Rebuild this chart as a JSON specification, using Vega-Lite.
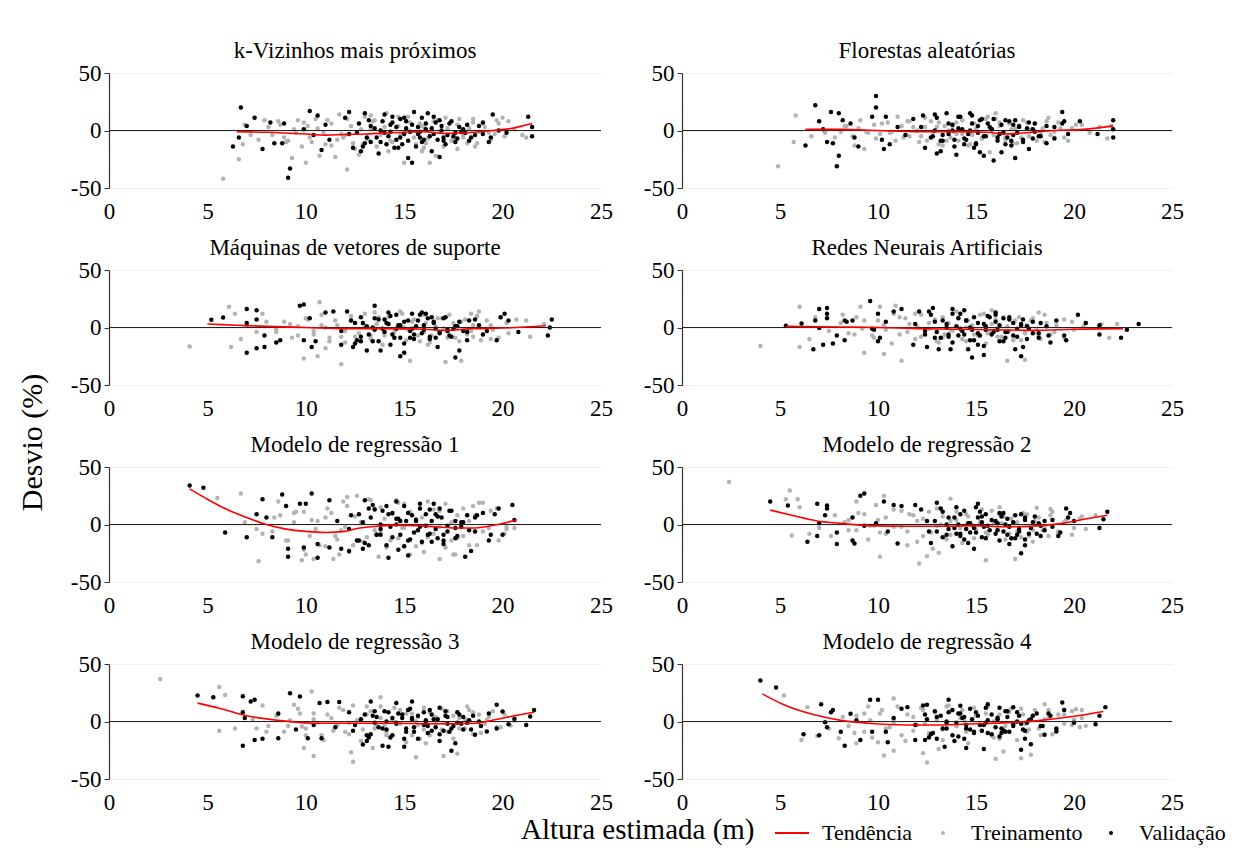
{
"$schema":"https://vega.github.io/schema/vega-lite/v6.json",
"background":"white",
"padding":{"left":18,"top":40,"right":5,"bottom":5},
"title":{"text":"Desvio (%)","orient":"left","anchor":"middle","fontSize":30,"font":"Liberation Serif, DejaVu Serif, serif","fontWeight":"normal","color":"black","offset":22},
"columns":2,
"spacing":{"row":14,"column":30},
"datasets":{
"g1":[{"x":5.8,"y":-42},{"x":6.6,"y":-25},{"x":6.8,"y":-12},{"x":6.9,"y":5},{"x":7.2,"y":-4},{"x":7.6,"y":-8},{"x":8.1,"y":3},{"x":8.6,"y":8},{"x":9.3,"y":-24},{"x":9.5,"y":-2},{"x":9.6,"y":9},{"x":10,"y":-28},{"x":10.3,"y":-10},{"x":10.7,"y":-22},{"x":11.1,"y":9},{"x":11.5,"y":-23},{"x":11.9,"y":-6},{"x":12.1,"y":-34},{"x":12.3,"y":4},{"x":12.7,"y":-21},{"x":13.2,"y":-8},{"x":13.4,"y":8},{"x":13.6,"y":-14},{"x":13.9,"y":-2},{"x":14.1,"y":15},{"x":14.4,"y":-10},{"x":14.7,"y":4},{"x":15,"y":-28},{"x":15.2,"y":12},{"x":15.5,"y":-6},{"x":15.8,"y":6},{"x":16.1,"y":-11},{"x":16.3,"y":-28},{"x":16.7,"y":9},{"x":17,"y":-14},{"x":17.2,"y":2},{"x":17.5,"y":-7},{"x":17.8,"y":10},{"x":18,"y":-4},{"x":18.2,"y":-11},{"x":18.5,"y":7},{"x":18.8,"y":-1},{"x":19.1,"y":3},{"x":19.4,"y":-8},{"x":19.8,"y":6},{"x":20.3,"y":8},{"x":20.6,"y":1},{"x":21,"y":-4},{"x":21.2,"y":-6},{"x":8.9,"y":-6},{"x":10.1,"y":4},{"x":10.9,"y":-2},{"x":11.7,"y":14},{"x":12.9,"y":-12},{"x":13,"y":12},{"x":14.2,"y":-18},{"x":15.9,"y":-18},{"x":16.6,"y":-22},{"x":17.7,"y":-16},{"x":14.8,"y":-4},{"x":13.3,"y":1},{"x":16,"y":3},{"x":12,"y":-4},{"x":9.8,"y":-14},{"x":7.9,"y":9},{"x":18.6,"y":-14},{"x":9,"y":-10},{"x":10.5,"y":10},{"x":11.3,"y":-13},{"x":12.5,"y":-16},{"x":19.6,"y":-3},{"x":20,"y":11},{"x":8.3,"y":-4},{"x":8.7,"y":5},{"x":9.1,"y":-9},{"x":9.4,"y":1},{"x":9.9,"y":7},{"x":10.2,"y":-6},{"x":10.6,"y":2},{"x":11,"y":-12},{"x":11.3,"y":6},{"x":11.8,"y":-3},{"x":12.1,"y":10},{"x":12.4,"y":-11},{"x":12.8,"y":1},{"x":13.1,"y":-7},{"x":13.5,"y":9},{"x":13.8,"y":-4},{"x":14,"y":3},{"x":14.3,"y":-9},{"x":14.7,"y":12},{"x":15,"y":-2},{"x":15.3,"y":7},{"x":15.6,"y":-12},{"x":15.9,"y":4},{"x":16.2,"y":-7},{"x":16.5,"y":8},{"x":16.8,"y":-1},{"x":17.1,"y":11},{"x":17.4,"y":-9},{"x":17.7,"y":5},{"x":18,"y":-6},{"x":18.3,"y":2},{"x":18.7,"y":-11},{"x":19,"y":6},{"x":19.3,"y":-2},{"x":19.7,"y":9},{"x":20.1,"y":-5},{"x":11.6,"y":-8},{"x":13.3,"y":13},{"x":16,"y":-15},{"x":18.5,"y":10}],
"b1":[{"x":6.7,"y":20},{"x":6.3,"y":-14},{"x":6.6,"y":-6},{"x":7,"y":4},{"x":7.4,"y":11},{"x":7.8,"y":-16},{"x":8.2,"y":7},{"x":8.4,"y":-11},{"x":8.8,"y":-11},{"x":8.9,"y":6},{"x":9.2,"y":-33},{"x":9.1,"y":-41},{"x":9.9,"y":1},{"x":10.2,"y":17},{"x":10.4,"y":-4},{"x":10.6,"y":13},{"x":10.8,"y":-17},{"x":11,"y":5},{"x":11.2,"y":-8},{"x":12,"y":11},{"x":12.2,"y":16},{"x":12.4,"y":-15},{"x":12.8,"y":-18},{"x":13,"y":15},{"x":13.3,"y":-10},{"x":13.7,"y":-20},{"x":14,"y":14},{"x":14.2,"y":-5},{"x":14.5,"y":-15},{"x":14.8,"y":10},{"x":15,"y":-3},{"x":15.2,"y":-24},{"x":15.4,"y":-28},{"x":15.5,"y":16},{"x":15.7,"y":3},{"x":16,"y":-8},{"x":16.2,"y":15},{"x":16.4,"y":-18},{"x":16.6,"y":7},{"x":16.8,"y":-23},{"x":17,"y":-6},{"x":17.3,"y":6},{"x":17.6,"y":-10},{"x":17.8,"y":3},{"x":18.1,"y":-2},{"x":18.4,"y":-6},{"x":18.8,"y":4},{"x":19,"y":-3},{"x":19.3,"y":-10},{"x":19.5,"y":14},{"x":19.8,"y":0},{"x":20.2,"y":-2},{"x":21.3,"y":12},{"x":21.5,"y":-5},{"x":21.5,"y":3},{"x":13.5,"y":2},{"x":14,"y":-2},{"x":14.3,"y":5},{"x":14.6,"y":-8},{"x":15.1,"y":8},{"x":15.3,"y":-1},{"x":15.8,"y":-6},{"x":16.1,"y":1},{"x":16.5,"y":-3},{"x":17.1,"y":-12},{"x":13.1,"y":-6},{"x":12.6,"y":-2},{"x":13.8,"y":-10},{"x":14.9,"y":-12},{"x":15.9,"y":11},{"x":16.9,"y":0},{"x":17.5,"y":-5},{"x":18.3,"y":-9},{"x":14.4,"y":12},{"x":15.6,"y":-14},{"x":12.2,"y":-3},{"x":12.7,"y":6},{"x":13,"y":-11},{"x":13.3,"y":4},{"x":13.6,"y":-6},{"x":13.9,"y":8},{"x":14.1,"y":-12},{"x":14.3,"y":-1},{"x":14.6,"y":3},{"x":14.8,"y":-6},{"x":15,"y":11},{"x":15.2,"y":-9},{"x":15.4,"y":5},{"x":15.7,"y":-3},{"x":15.9,"y":-10},{"x":16.1,"y":6},{"x":16.3,"y":-5},{"x":16.5,"y":12},{"x":16.7,"y":-8},{"x":16.9,"y":4},{"x":17.2,"y":-4},{"x":17.4,"y":8},{"x":17.7,"y":-7},{"x":17.9,"y":-1},{"x":18.2,"y":5},{"x":18.6,"y":-4},{"x":19,"y":7},{"x":19.4,"y":-6},{"x":13.2,"y":9},{"x":14.7,"y":-15},{"x":15.8,"y":-1},{"x":16.4,"y":2},{"x":17,"y":-9},{"x":18,"y":1},{"x":14.4,"y":7},{"x":12.9,"y":-14},{"x":15.1,"y":2},{"x":16.8,"y":9},{"x":17.6,"y":-2},{"x":13.8,"y":0}],
"t1":[{"x":6.5,"y":-1},{"x":8,"y":-1.5},{"x":10,"y":-3},{"x":11,"y":-4},{"x":13,"y":-3},{"x":15,"y":-1.5},{"x":16,"y":-1},{"x":17,"y":-2.5},{"x":18,"y":-2},{"x":19.5,"y":0},{"x":20.5,"y":2},{"x":21.5,"y":6}],
"g2":[{"x":4.9,"y":-31},{"x":5.7,"y":-10},{"x":5.8,"y":13},{"x":6.6,"y":-5},{"x":7.3,"y":-2},{"x":7.8,"y":-6},{"x":8.4,"y":4},{"x":8.8,"y":-13},{"x":9.3,"y":-16},{"x":9.5,"y":-2},{"x":9.8,"y":5},{"x":10.1,"y":-3},{"x":10.5,"y":7},{"x":10.9,"y":-9},{"x":11.2,"y":4},{"x":11.6,"y":-5},{"x":12,"y":0},{"x":12.5,"y":-9},{"x":12.7,"y":8},{"x":13.1,"y":-12},{"x":13.4,"y":4},{"x":13.7,"y":-6},{"x":14,"y":7},{"x":14.3,"y":-3},{"x":14.6,"y":-13},{"x":14.9,"y":6},{"x":15.3,"y":-7},{"x":15.7,"y":-19},{"x":16,"y":10},{"x":16.4,"y":-1},{"x":16.7,"y":6},{"x":17.3,"y":-6},{"x":17.6,"y":7},{"x":18.1,"y":-9},{"x":18.4,"y":2},{"x":18.8,"y":-4},{"x":19.2,"y":7},{"x":19.5,"y":-6},{"x":19.9,"y":2},{"x":20.4,"y":5},{"x":20.8,"y":-2},{"x":21.3,"y":3},{"x":21.7,"y":-7},{"x":21.9,"y":4},{"x":11.5,"y":8},{"x":12.2,"y":-5},{"x":13.9,"y":-1},{"x":15,"y":1},{"x":16.2,"y":4},{"x":17.8,"y":1},{"x":10.7,"y":-1},{"x":9,"y":2},{"x":8.1,"y":-1},{"x":15.5,"y":10},{"x":14.1,"y":-9},{"x":16.9,"y":-11},{"x":18.6,"y":8},{"x":13,"y":3},{"x":12.4,"y":3},{"x":13.6,"y":0},{"x":14.8,"y":-4},{"x":16.5,"y":-6},{"x":17,"y":2},{"x":19,"y":-1},{"x":8.3,"y":4},{"x":8.7,"y":-5},{"x":9.1,"y":9},{"x":9.4,"y":-1},{"x":9.9,"y":-7},{"x":10.2,"y":6},{"x":10.6,"y":-2},{"x":11,"y":12},{"x":11.3,"y":-6},{"x":11.8,"y":3},{"x":12.1,"y":-10},{"x":12.4,"y":11},{"x":12.8,"y":-1},{"x":13.1,"y":7},{"x":13.5,"y":-9},{"x":13.8,"y":4},{"x":14,"y":-3},{"x":14.3,"y":9},{"x":14.7,"y":-12},{"x":15,"y":2},{"x":15.3,"y":-7},{"x":15.6,"y":12},{"x":15.9,"y":-4},{"x":16.2,"y":7},{"x":16.5,"y":-8},{"x":16.8,"y":1},{"x":17.1,"y":-11},{"x":17.4,"y":9},{"x":17.7,"y":-5},{"x":18,"y":6},{"x":18.3,"y":-2},{"x":18.7,"y":11},{"x":19,"y":-6},{"x":19.3,"y":2},{"x":19.7,"y":-9},{"x":20.1,"y":5},{"x":11.6,"y":8},{"x":13.3,"y":-13},{"x":16,"y":15},{"x":18.5,"y":-10}],
"b2":[{"x":6.3,"y":-13},{"x":6.8,"y":22},{"x":7,"y":8},{"x":7.2,"y":1},{"x":7.4,"y":-10},{"x":7.6,"y":16},{"x":7.7,"y":-11},{"x":8,"y":15},{"x":8.2,"y":9},{"x":8,"y":-22},{"x":7.9,"y":-31},{"x":8.6,"y":6},{"x":9,"y":-14},{"x":8.8,"y":-6},{"x":9.7,"y":12},{"x":9.9,"y":30},{"x":9.9,"y":20},{"x":10.2,"y":-8},{"x":10.4,"y":12},{"x":10.3,"y":-16},{"x":10.6,"y":-12},{"x":11,"y":3},{"x":11.4,"y":-4},{"x":11.8,"y":10},{"x":12.3,"y":13},{"x":12.4,"y":-15},{"x":12.8,"y":-5},{"x":13,"y":-20},{"x":13.2,"y":-18},{"x":13.5,"y":15},{"x":13.8,"y":5},{"x":14,"y":-21},{"x":14.2,"y":12},{"x":14.5,"y":-8},{"x":14.8,"y":13},{"x":15,"y":-12},{"x":15.2,"y":-19},{"x":15.4,"y":-22},{"x":15.6,"y":6},{"x":15.9,"y":-26},{"x":16.1,"y":-9},{"x":16.3,"y":-19},{"x":16.5,"y":9},{"x":16.8,"y":-13},{"x":17,"y":-24},{"x":17.2,"y":3},{"x":17.4,"y":-10},{"x":17.7,"y":-16},{"x":18,"y":6},{"x":18.3,"y":-5},{"x":18.6,"y":-11},{"x":19,"y":3},{"x":19.4,"y":16},{"x":19.5,"y":8},{"x":19.7,"y":-3},{"x":20.3,"y":8},{"x":21.2,"y":-3},{"x":22,"y":9},{"x":22,"y":-6},{"x":22,"y":1},{"x":13.6,"y":-3},{"x":14.1,"y":2},{"x":14.4,"y":-12},{"x":14.7,"y":0},{"x":15.1,"y":4},{"x":15.5,"y":-5},{"x":15.8,"y":1},{"x":16.2,"y":-3},{"x":16.6,"y":-6},{"x":17.1,"y":-2},{"x":13.3,"y":-9},{"x":12.9,"y":0},{"x":14.9,"y":-15},{"x":15.3,"y":10},{"x":16.9,"y":5},{"x":17.9,"y":-7},{"x":13.9,"y":-14},{"x":12.2,"y":3},{"x":12.7,"y":-6},{"x":13,"y":11},{"x":13.3,"y":-4},{"x":13.6,"y":6},{"x":13.9,"y":-8},{"x":14.1,"y":12},{"x":14.3,"y":1},{"x":14.6,"y":-3},{"x":14.8,"y":6},{"x":15,"y":-11},{"x":15.2,"y":9},{"x":15.4,"y":-5},{"x":15.7,"y":3},{"x":15.9,"y":10},{"x":16.1,"y":-6},{"x":16.3,"y":5},{"x":16.5,"y":-12},{"x":16.7,"y":8},{"x":16.9,"y":-4},{"x":17.2,"y":4},{"x":17.4,"y":-8},{"x":17.7,"y":7},{"x":17.9,"y":1},{"x":18.2,"y":-5},{"x":18.6,"y":4},{"x":19,"y":-7},{"x":19.4,"y":6},{"x":13.2,"y":-9},{"x":14.7,"y":15},{"x":15.8,"y":1},{"x":16.4,"y":-2},{"x":17,"y":9},{"x":18,"y":-1},{"x":14.4,"y":-7},{"x":12.9,"y":14},{"x":15.1,"y":-2},{"x":16.8,"y":-9},{"x":17.6,"y":2},{"x":13.8,"y":0}],
"t2":[{"x":6.3,"y":1},{"x":8,"y":1},{"x":10,"y":0},{"x":12,"y":-1},{"x":14,"y":-1},{"x":15.5,"y":-1.5},{"x":16.5,"y":-3},{"x":17.5,"y":-2},{"x":19,"y":0},{"x":20.5,"y":1},{"x":22,"y":4}],
"g3":[{"x":4.1,"y":-16.5},{"x":6.1,"y":18},{"x":6.4,"y":12},{"x":6.2,"y":-17},{"x":6.7,"y":-10},{"x":7.8,"y":12},{"x":10.7,"y":22},{"x":9.9,"y":-27},{"x":10.6,"y":-25},{"x":11,"y":-18},{"x":11.8,"y":-32},{"x":17.1,"y":-30},{"x":17.9,"y":-29},{"x":15.3,"y":-29},{"x":18.4,"y":12},{"x":18.8,"y":14},{"x":20.7,"y":7},{"x":21.4,"y":-8},{"x":21.2,"y":6},{"x":22.1,"y":3},{"x":19.4,"y":-10},{"x":7,"y":2},{"x":7.5,"y":-4},{"x":8,"y":5},{"x":8.5,"y":-2},{"x":9.2,"y":3},{"x":9.6,"y":-7},{"x":10,"y":8},{"x":10.4,"y":-3},{"x":10.8,"y":11},{"x":11.2,"y":-9},{"x":11.6,"y":2},{"x":12,"y":-13},{"x":12.3,"y":6},{"x":12.7,"y":-5},{"x":13,"y":12},{"x":13.3,"y":-10},{"x":13.6,"y":3},{"x":13.9,"y":-15},{"x":14.2,"y":9},{"x":14.5,"y":-4},{"x":14.8,"y":14},{"x":15.1,"y":-11},{"x":15.4,"y":5},{"x":15.7,"y":-7},{"x":16,"y":11},{"x":16.3,"y":-13},{"x":16.6,"y":1},{"x":16.9,"y":8},{"x":17.2,"y":-9},{"x":17.5,"y":4},{"x":17.8,"y":-12},{"x":18.1,"y":7},{"x":18.4,"y":-3},{"x":18.7,"y":10},{"x":19,"y":-6},{"x":19.4,"y":2},{"x":19.8,"y":-9},{"x":20.2,"y":4},{"x":11,"y":0},{"x":13.5,"y":-1},{"x":15,"y":0},{"x":17,"y":-1},{"x":14,"y":-7},{"x":16,"y":-4},{"x":12.5,"y":-8},{"x":18.5,"y":-8},{"x":8.5,"y":-4},{"x":8.9,"y":5},{"x":9.3,"y":-9},{"x":9.6,"y":1},{"x":10.1,"y":7},{"x":10.4,"y":-6},{"x":10.8,"y":2},{"x":11.2,"y":-12},{"x":11.5,"y":6},{"x":12,"y":-3},{"x":12.3,"y":10},{"x":12.6,"y":-11},{"x":13,"y":1},{"x":13.3,"y":-7},{"x":13.7,"y":9},{"x":14,"y":-4},{"x":14.2,"y":3},{"x":14.5,"y":-9},{"x":14.9,"y":12},{"x":15.2,"y":-2},{"x":15.5,"y":7},{"x":15.8,"y":-12},{"x":16.1,"y":4},{"x":16.4,"y":-7},{"x":16.7,"y":8},{"x":17,"y":-1},{"x":17.3,"y":11},{"x":17.6,"y":-9},{"x":17.9,"y":5},{"x":18.2,"y":-6},{"x":18.5,"y":2},{"x":18.9,"y":-11},{"x":19.2,"y":6},{"x":19.5,"y":-2},{"x":19.9,"y":9},{"x":20.3,"y":-5},{"x":11.8,"y":-8},{"x":13.5,"y":13},{"x":16.2,"y":-15},{"x":18.7,"y":10}],
"b3":[{"x":5.2,"y":6.7},{"x":5.8,"y":8.7},{"x":7,"y":16},{"x":7.5,"y":15},{"x":7.5,"y":7},{"x":7,"y":-22},{"x":7.5,"y":-18},{"x":7.9,"y":-17},{"x":7,"y":4},{"x":7.9,"y":-7},{"x":8.5,"y":-13},{"x":8.7,"y":-11},{"x":9.7,"y":19},{"x":9.9,"y":20},{"x":10.2,"y":8},{"x":9.9,"y":-11},{"x":10.3,"y":-17},{"x":10.5,"y":-12},{"x":11,"y":13},{"x":11.4,"y":14},{"x":11.8,"y":-15},{"x":12.1,"y":14},{"x":12.4,"y":-17},{"x":12.8,"y":-12},{"x":13.1,"y":-20},{"x":13.5,"y":19},{"x":13.8,"y":-20},{"x":14.2,"y":13},{"x":14.8,"y":-25},{"x":15,"y":-22},{"x":15.4,"y":12},{"x":15.9,"y":13},{"x":16.7,"y":-17},{"x":17.6,"y":-26},{"x":17.8,"y":-20},{"x":18.2,"y":-11},{"x":19.7,"y":-11},{"x":20.1,"y":12},{"x":19.9,"y":9},{"x":20.3,"y":6},{"x":20.8,"y":-4},{"x":22.3,"y":-7},{"x":22.5,"y":7},{"x":22.4,"y":0},{"x":12.5,"y":4},{"x":12.8,"y":-8},{"x":13.1,"y":1},{"x":13.4,"y":-12},{"x":13.7,"y":7},{"x":14,"y":-4},{"x":14.3,"y":10},{"x":14.5,"y":-9},{"x":14.8,"y":2},{"x":15,"y":-14},{"x":15.2,"y":6},{"x":15.5,"y":-6},{"x":15.8,"y":11},{"x":16,"y":-2},{"x":16.3,"y":-10},{"x":16.5,"y":5},{"x":16.8,"y":-5},{"x":17.1,"y":9},{"x":17.4,"y":-8},{"x":17.7,"y":1},{"x":18,"y":-3},{"x":18.3,"y":6},{"x":13.5,"y":-2},{"x":14.6,"y":-1},{"x":15.6,"y":1},{"x":16.6,"y":-1},{"x":17.2,"y":-3},{"x":14.1,"y":4},{"x":15.3,"y":-9},{"x":16.2,"y":8},{"x":18.8,"y":2},{"x":19.2,"y":-3},{"x":11.8,"y":-3},{"x":12.3,"y":6},{"x":12.6,"y":-11},{"x":12.9,"y":4},{"x":13.2,"y":-6},{"x":13.5,"y":8},{"x":13.7,"y":-12},{"x":13.9,"y":-1},{"x":14.2,"y":3},{"x":14.4,"y":-6},{"x":14.6,"y":11},{"x":14.8,"y":-9},{"x":15,"y":5},{"x":15.3,"y":-3},{"x":15.5,"y":-10},{"x":15.7,"y":6},{"x":15.9,"y":-5},{"x":16.1,"y":12},{"x":16.3,"y":-8},{"x":16.5,"y":4},{"x":16.8,"y":-4},{"x":17,"y":8},{"x":17.3,"y":-7},{"x":17.5,"y":-1},{"x":17.8,"y":5},{"x":18.2,"y":-4},{"x":18.6,"y":7},{"x":19,"y":-6},{"x":12.8,"y":9},{"x":14.3,"y":-15},{"x":15.4,"y":-1},{"x":16,"y":2},{"x":16.6,"y":-9},{"x":17.6,"y":1},{"x":14,"y":7},{"x":12.5,"y":-14},{"x":14.7,"y":2},{"x":16.4,"y":9},{"x":17.2,"y":-2},{"x":13.4,"y":0}],
"t3":[{"x":5,"y":3},{"x":6.5,"y":2},{"x":8,"y":1},{"x":10,"y":0},{"x":12,"y":-1},{"x":14,"y":-1},{"x":16,"y":-1.5},{"x":17,"y":-2.5},{"x":18.5,"y":-1},{"x":20,"y":-0.5},{"x":22.2,"y":1.5}],
"g4":[{"x":4,"y":-16},{"x":6,"y":18},{"x":6,"y":-17},{"x":6.5,"y":-10},{"x":9.3,"y":-22},{"x":10.3,"y":-23},{"x":11.2,"y":-29},{"x":16.6,"y":-29},{"x":17.5,"y":-28},{"x":18.2,"y":13},{"x":22.2,"y":3},{"x":21.8,"y":-9},{"x":21.4,"y":3},{"x":9.1,"y":18},{"x":10.1,"y":18},{"x":10.9,"y":19},{"x":6.8,"y":9},{"x":7.5,"y":-3},{"x":8.2,"y":11},{"x":8.8,"y":-6},{"x":9.3,"y":6},{"x":9.8,"y":-9},{"x":10.3,"y":2},{"x":10.7,"y":-14},{"x":11.1,"y":9},{"x":11.5,"y":-4},{"x":11.9,"y":12},{"x":12.2,"y":-8},{"x":12.6,"y":4},{"x":13,"y":-12},{"x":13.3,"y":9},{"x":13.7,"y":-2},{"x":14,"y":14},{"x":14.3,"y":-10},{"x":14.6,"y":6},{"x":14.9,"y":-6},{"x":15.2,"y":11},{"x":15.5,"y":-14},{"x":15.8,"y":3},{"x":16.1,"y":-8},{"x":16.4,"y":9},{"x":16.7,"y":-3},{"x":17,"y":6},{"x":17.3,"y":-11},{"x":17.6,"y":2},{"x":17.9,"y":8},{"x":18.2,"y":-7},{"x":18.6,"y":4},{"x":19,"y":-4},{"x":19.5,"y":7},{"x":20,"y":-2},{"x":20.5,"y":1},{"x":12,"y":1},{"x":14.5,"y":0},{"x":16,"y":-1},{"x":13.4,"y":-6},{"x":15.6,"y":-5},{"x":17.5,"y":-5},{"x":8.1,"y":4},{"x":8.5,"y":-5},{"x":8.9,"y":9},{"x":9.2,"y":-1},{"x":9.7,"y":-7},{"x":10,"y":6},{"x":10.4,"y":-2},{"x":10.8,"y":12},{"x":11.1,"y":-6},{"x":11.6,"y":3},{"x":11.9,"y":-10},{"x":12.2,"y":11},{"x":12.6,"y":-1},{"x":12.9,"y":7},{"x":13.3,"y":-9},{"x":13.6,"y":4},{"x":13.8,"y":-3},{"x":14.1,"y":9},{"x":14.5,"y":-12},{"x":14.8,"y":2},{"x":15.1,"y":-7},{"x":15.4,"y":12},{"x":15.7,"y":-4},{"x":16,"y":7},{"x":16.3,"y":-8},{"x":16.6,"y":1},{"x":16.9,"y":-11},{"x":17.2,"y":9},{"x":17.5,"y":-5},{"x":17.8,"y":6},{"x":18.1,"y":-2},{"x":18.5,"y":11},{"x":18.8,"y":-6},{"x":19.1,"y":2},{"x":19.5,"y":-9},{"x":19.9,"y":5},{"x":11.4,"y":8},{"x":13.1,"y":-13},{"x":15.8,"y":15},{"x":18.3,"y":-10}],
"b4":[{"x":5.3,"y":1.5},{"x":6.1,"y":3.5},{"x":6.7,"y":-19},{"x":6.8,"y":6},{"x":7,"y":16},{"x":7,"y":-0.5},{"x":7.2,"y":-15},{"x":7.4,"y":17},{"x":7.4,"y":12},{"x":7.4,"y":8},{"x":7.7,"y":-14},{"x":7.9,"y":-7},{"x":8.3,"y":-11},{"x":8.3,"y":6},{"x":8.4,"y":5},{"x":8.7,"y":6},{"x":9.6,"y":23},{"x":9.7,"y":-1},{"x":9.8,"y":-2},{"x":10,"y":-12},{"x":10.1,"y":-9},{"x":10,"y":12},{"x":10.4,"y":5},{"x":10.8,"y":14},{"x":11.2,"y":16},{"x":11.8,"y":-15},{"x":12.1,"y":14},{"x":12.5,"y":-17},{"x":12.8,"y":17},{"x":13.1,"y":-19},{"x":13.7,"y":-19},{"x":13.8,"y":16},{"x":14.2,"y":12},{"x":14.6,"y":-19},{"x":14.8,"y":-26},{"x":15.4,"y":-24},{"x":15.1,"y":-15},{"x":16,"y":13},{"x":17,"y":-19},{"x":17.3,"y":-25},{"x":17.4,"y":-17},{"x":18.2,"y":-9},{"x":18.8,"y":-13},{"x":19.5,"y":-7},{"x":19.6,"y":-11},{"x":20.2,"y":11},{"x":20.6,"y":4},{"x":21.3,"y":2},{"x":21.3,"y":-6},{"x":22.4,"y":-9},{"x":22.7,"y":-2},{"x":23.3,"y":3},{"x":12.4,"y":-3},{"x":12.9,"y":5},{"x":13.2,"y":-9},{"x":13.5,"y":3},{"x":13.8,"y":-13},{"x":14.1,"y":8},{"x":14.4,"y":-6},{"x":14.7,"y":0},{"x":14.9,"y":-11},{"x":15.1,"y":4},{"x":15.4,"y":-16},{"x":15.7,"y":9},{"x":15.9,"y":-4},{"x":16.2,"y":2},{"x":16.4,"y":-12},{"x":16.7,"y":7},{"x":16.9,"y":-7},{"x":17.3,"y":3},{"x":17.6,"y":-10},{"x":17.9,"y":5},{"x":18.2,"y":-5},{"x":18.6,"y":1},{"x":13.6,"y":-6},{"x":14.5,"y":6},{"x":15.5,"y":-2},{"x":16.5,"y":-4},{"x":17.1,"y":-1},{"x":14.2,"y":-1},{"x":15.2,"y":-7},{"x":16,"y":11},{"x":11.9,"y":3},{"x":12.4,"y":-6},{"x":12.7,"y":11},{"x":13,"y":-4},{"x":13.3,"y":6},{"x":13.6,"y":-8},{"x":13.8,"y":12},{"x":14,"y":1},{"x":14.3,"y":-3},{"x":14.5,"y":6},{"x":14.7,"y":-11},{"x":14.9,"y":9},{"x":15.1,"y":-5},{"x":15.4,"y":3},{"x":15.6,"y":10},{"x":15.8,"y":-6},{"x":16,"y":5},{"x":16.2,"y":-12},{"x":16.4,"y":8},{"x":16.6,"y":-4},{"x":16.9,"y":4},{"x":17.1,"y":-8},{"x":17.4,"y":7},{"x":17.6,"y":1},{"x":17.9,"y":-5},{"x":18.3,"y":4},{"x":18.7,"y":-7},{"x":19.1,"y":6},{"x":12.9,"y":-9},{"x":14.4,"y":15},{"x":15.5,"y":1},{"x":16.1,"y":-2},{"x":16.7,"y":9},{"x":17.7,"y":-1},{"x":14.1,"y":-7},{"x":12.6,"y":14},{"x":14.8,"y":-2},{"x":16.5,"y":-9},{"x":17.3,"y":2},{"x":13.5,"y":0}],
"t4":[{"x":5.3,"y":1},{"x":8,"y":0.5},{"x":10,"y":0},{"x":12,"y":-1},{"x":14,"y":-1.5},{"x":16,"y":-2},{"x":18,"y":-2.5},{"x":20,"y":-1.5},{"x":22.5,"y":-1}],
"g5":[{"x":5.5,"y":23},{"x":6.7,"y":27},{"x":6.9,"y":2},{"x":7.5,"y":-4},{"x":7.6,"y":-32},{"x":8.6,"y":20},{"x":9.5,"y":11},{"x":9.8,"y":-31},{"x":10.4,"y":-30},{"x":11,"y":6},{"x":11.4,"y":-30},{"x":12.1,"y":24},{"x":12.6,"y":25},{"x":14.6,"y":21},{"x":16.8,"y":-30},{"x":17.6,"y":-26},{"x":18.8,"y":19},{"x":19,"y":19},{"x":20.2,"y":-4},{"x":20.6,"y":-3},{"x":7.8,"y":-8},{"x":8.4,"y":6},{"x":9,"y":-14},{"x":9.4,"y":10},{"x":9.9,"y":-22},{"x":10.3,"y":4},{"x":10.7,"y":-18},{"x":11.1,"y":14},{"x":11.5,"y":-10},{"x":11.9,"y":20},{"x":12.2,"y":-24},{"x":12.5,"y":7},{"x":12.9,"y":-15},{"x":13.2,"y":22},{"x":13.5,"y":-5},{"x":13.8,"y":15},{"x":14.1,"y":-20},{"x":14.4,"y":9},{"x":14.7,"y":-12},{"x":15,"y":18},{"x":15.3,"y":-26},{"x":15.6,"y":5},{"x":15.9,"y":-16},{"x":16.2,"y":20},{"x":16.5,"y":-8},{"x":16.8,"y":12},{"x":17.1,"y":-20},{"x":17.4,"y":2},{"x":17.7,"y":-12},{"x":18,"y":14},{"x":18.3,"y":-18},{"x":18.6,"y":8},{"x":19,"y":-6},{"x":19.4,"y":12},{"x":19.8,"y":-14},{"x":20.2,"y":-2},{"x":10.5,"y":-4},{"x":12,"y":-2},{"x":13.7,"y":-28},{"x":14.9,"y":-3},{"x":16.1,"y":-1},{"x":17.5,"y":-26},{"x":10,"y":-26},{"x":11.7,"y":-26},{"x":8.3,"y":-6},{"x":8.7,"y":8},{"x":9.1,"y":-14},{"x":9.4,"y":2},{"x":9.9,"y":11},{"x":10.2,"y":-10},{"x":10.6,"y":3},{"x":11,"y":-19},{"x":11.3,"y":10},{"x":11.8,"y":-5},{"x":12.1,"y":16},{"x":12.4,"y":-18},{"x":12.8,"y":2},{"x":13.1,"y":-11},{"x":13.5,"y":14},{"x":13.8,"y":-6},{"x":14,"y":5},{"x":14.3,"y":-14},{"x":14.7,"y":19},{"x":15,"y":-3},{"x":15.3,"y":11},{"x":15.6,"y":-19},{"x":15.9,"y":6},{"x":16.2,"y":-11},{"x":16.5,"y":13},{"x":16.8,"y":-2},{"x":17.1,"y":18},{"x":17.4,"y":-14},{"x":17.7,"y":8},{"x":18,"y":-10},{"x":18.3,"y":3},{"x":18.7,"y":-18},{"x":19,"y":10},{"x":19.3,"y":-3},{"x":19.7,"y":14},{"x":20.1,"y":-8},{"x":11.6,"y":-13},{"x":13.3,"y":21},{"x":16,"y":-24},{"x":18.5,"y":16}],
"b5":[{"x":4.1,"y":34},{"x":4.8,"y":32},{"x":5.9,"y":-7},{"x":7,"y":-11},{"x":7.5,"y":9},{"x":7.8,"y":22},{"x":8,"y":6},{"x":8.3,"y":-11},{"x":8.8,"y":26},{"x":9,"y":16},{"x":9.1,"y":-21},{"x":9.1,"y":-28},{"x":9.7,"y":18},{"x":10,"y":18},{"x":9.9,"y":-20},{"x":10.3,"y":27},{"x":10.6,"y":-17},{"x":10.6,"y":-29},{"x":11.2,"y":21},{"x":11.2,"y":-20},{"x":11.6,"y":3},{"x":11.8,"y":-21},{"x":12.2,"y":-23},{"x":13,"y":21},{"x":12.7,"y":-14},{"x":13.4,"y":17},{"x":13.8,"y":-9},{"x":14.2,"y":-29},{"x":14.6,"y":20},{"x":14.8,"y":3},{"x":15.2,"y":-27},{"x":15.6,"y":3},{"x":15.8,"y":14},{"x":16.2,"y":-9},{"x":16.6,"y":9},{"x":17,"y":-17},{"x":17.6,"y":3},{"x":18.1,"y":-28},{"x":18.4,"y":-23},{"x":18.6,"y":6},{"x":19.3,"y":-14},{"x":19.6,"y":9},{"x":19.8,"y":14},{"x":20.5,"y":17},{"x":20.6,"y":4},{"x":20,"y":-9},{"x":12.3,"y":8},{"x":12.6,"y":-14},{"x":12.9,"y":2},{"x":13.2,"y":-18},{"x":13.5,"y":13},{"x":13.8,"y":-4},{"x":14.1,"y":16},{"x":14.4,"y":-11},{"x":14.7,"y":5},{"x":15,"y":-19},{"x":15.2,"y":10},{"x":15.5,"y":-7},{"x":15.8,"y":18},{"x":16.1,"y":-1},{"x":16.4,"y":-15},{"x":16.7,"y":7},{"x":17,"y":-9},{"x":17.3,"y":12},{"x":17.6,"y":-12},{"x":17.9,"y":2},{"x":18.3,"y":-5},{"x":18.7,"y":8},{"x":13.6,"y":-9},{"x":14.6,"y":0},{"x":15.6,"y":4},{"x":16.6,"y":-4},{"x":17.2,"y":-1},{"x":14.2,"y":9},{"x":15.3,"y":-13},{"x":16.3,"y":13},{"x":12.2,"y":-4},{"x":12.7,"y":9},{"x":13,"y":-16},{"x":13.3,"y":6},{"x":13.6,"y":-9},{"x":13.9,"y":12},{"x":14.1,"y":-18},{"x":14.3,"y":-2},{"x":14.6,"y":5},{"x":14.8,"y":-9},{"x":15,"y":16},{"x":15.2,"y":-14},{"x":15.4,"y":8},{"x":15.7,"y":-5},{"x":15.9,"y":-15},{"x":16.1,"y":9},{"x":16.3,"y":-8},{"x":16.5,"y":18},{"x":16.7,"y":-12},{"x":16.9,"y":6},{"x":17.2,"y":-6},{"x":17.4,"y":12},{"x":17.7,"y":-10},{"x":17.9,"y":-2},{"x":18.2,"y":8},{"x":18.6,"y":-6},{"x":19,"y":10},{"x":19.4,"y":-9},{"x":13.2,"y":14},{"x":14.7,"y":-22},{"x":15.8,"y":-2},{"x":16.4,"y":3},{"x":17,"y":-14},{"x":18,"y":2},{"x":14.4,"y":10},{"x":12.9,"y":-21},{"x":15.1,"y":3},{"x":16.8,"y":14},{"x":17.6,"y":-3},{"x":13.8,"y":0}],
"t5":[{"x":4.1,"y":31},{"x":5,"y":22},{"x":6,"y":13},{"x":7,"y":6},{"x":8,"y":0},{"x":9,"y":-4},{"x":10,"y":-6},{"x":11,"y":-7},{"x":12,"y":-6},{"x":12.6,"y":-3.5},{"x":13.6,"y":-1.5},{"x":14.6,"y":-0.5},{"x":15.6,"y":-1},{"x":16.6,"y":-2},{"x":17.6,"y":-3},{"x":18.6,"y":-3},{"x":19.6,"y":-0.5},{"x":20.7,"y":4}],
"g6":[{"x":2.4,"y":37},{"x":5.3,"y":22},{"x":5.5,"y":29.5},{"x":5.9,"y":22},{"x":6,"y":15},{"x":5.6,"y":-9.5},{"x":6.5,"y":-8},{"x":7.6,"y":-10},{"x":8.3,"y":2},{"x":8.9,"y":20},{"x":10.1,"y":-28},{"x":10.3,"y":25},{"x":9.9,"y":17},{"x":12.1,"y":-34},{"x":12.5,"y":-27.5},{"x":13.1,"y":-24.5},{"x":13.7,"y":22.5},{"x":15.5,"y":-31},{"x":17,"y":-30},{"x":17.1,"y":2},{"x":18.1,"y":14.5},{"x":18.8,"y":13.5},{"x":20.4,"y":7},{"x":20.6,"y":-4},{"x":21.1,"y":8},{"x":7,"y":-3},{"x":7.8,"y":8},{"x":8.5,"y":-5},{"x":9,"y":10},{"x":9.5,"y":-13},{"x":10,"y":4},{"x":10.4,"y":-8},{"x":10.8,"y":13},{"x":11.2,"y":-2},{"x":11.6,"y":9},{"x":12,"y":-15},{"x":12.3,"y":5},{"x":12.7,"y":-7},{"x":13,"y":14},{"x":13.4,"y":-11},{"x":13.7,"y":3},{"x":14,"y":11},{"x":14.3,"y":-16},{"x":14.6,"y":7},{"x":15,"y":-4},{"x":15.3,"y":13},{"x":15.6,"y":-9},{"x":15.9,"y":2},{"x":16.2,"y":9},{"x":16.5,"y":-13},{"x":16.8,"y":5},{"x":17.1,"y":-6},{"x":17.4,"y":10},{"x":17.7,"y":-10},{"x":18,"y":3},{"x":18.4,"y":-5},{"x":18.8,"y":8},{"x":19.2,"y":-7},{"x":19.6,"y":4},{"x":20,"y":-3},{"x":9.8,"y":-1},{"x":11.5,"y":-18},{"x":13.2,"y":0},{"x":14.8,"y":-1},{"x":16.3,"y":1},{"x":17.9,"y":-15},{"x":12.8,"y":-21},{"x":8.5,"y":4},{"x":8.9,"y":-5},{"x":9.3,"y":9},{"x":9.6,"y":-1},{"x":10.1,"y":-7},{"x":10.4,"y":6},{"x":10.8,"y":-2},{"x":11.2,"y":12},{"x":11.5,"y":-6},{"x":12,"y":3},{"x":12.3,"y":-10},{"x":12.6,"y":11},{"x":13,"y":-1},{"x":13.3,"y":7},{"x":13.7,"y":-9},{"x":14,"y":4},{"x":14.2,"y":-3},{"x":14.5,"y":9},{"x":14.9,"y":-12},{"x":15.2,"y":2},{"x":15.5,"y":-7},{"x":15.8,"y":12},{"x":16.1,"y":-4},{"x":16.4,"y":7},{"x":16.7,"y":-8},{"x":17,"y":1},{"x":17.3,"y":-11},{"x":17.6,"y":9},{"x":17.9,"y":-5},{"x":18.2,"y":6},{"x":18.5,"y":-2},{"x":18.9,"y":11},{"x":19.2,"y":-6},{"x":19.5,"y":2},{"x":19.9,"y":-9},{"x":20.3,"y":5},{"x":11.8,"y":8},{"x":13.5,"y":-13},{"x":16.2,"y":15},{"x":18.7,"y":-10}],
"b6":[{"x":4.5,"y":20},{"x":5.4,"y":16.5},{"x":6.4,"y":-15},{"x":6.9,"y":-10},{"x":6.9,"y":18},{"x":7,"y":1},{"x":7.4,"y":16.5},{"x":7.4,"y":14},{"x":7.3,"y":8},{"x":7.9,"y":-17},{"x":7.9,"y":-7},{"x":8.7,"y":6},{"x":8.7,"y":-14},{"x":8.8,"y":-16.5},{"x":9.1,"y":25},{"x":9.3,"y":27},{"x":9.3,"y":-1},{"x":9.9,"y":1},{"x":10.3,"y":20},{"x":10.5,"y":-6},{"x":10.8,"y":17},{"x":11,"y":-16.5},{"x":11.2,"y":16},{"x":11.9,"y":17},{"x":12.2,"y":13},{"x":12.7,"y":-16},{"x":13,"y":19},{"x":13.8,"y":-19},{"x":14,"y":15},{"x":14.2,"y":-10},{"x":14.6,"y":-16},{"x":14.9,"y":-21},{"x":15.1,"y":18},{"x":15.3,"y":7},{"x":16,"y":-8},{"x":16.4,"y":10},{"x":16.7,"y":-17},{"x":17.5,"y":-13},{"x":17.5,"y":-18},{"x":17.3,"y":-25},{"x":18.3,"y":-10},{"x":19.2,"y":-10},{"x":19.6,"y":14},{"x":19.8,"y":10},{"x":20,"y":3},{"x":21.3,"y":-3},{"x":21.5,"y":4.5},{"x":21.7,"y":11},{"x":12.6,"y":-6},{"x":12.9,"y":3},{"x":13.3,"y":-11},{"x":13.6,"y":6},{"x":13.9,"y":-3},{"x":14.2,"y":9},{"x":14.4,"y":-13},{"x":14.7,"y":1},{"x":15,"y":-7},{"x":15.2,"y":11},{"x":15.5,"y":-12},{"x":15.8,"y":4},{"x":16.1,"y":-5},{"x":16.3,"y":7},{"x":16.6,"y":-9},{"x":16.9,"y":2},{"x":17.2,"y":-6},{"x":17.5,"y":6},{"x":17.8,"y":-3},{"x":18.1,"y":-8},{"x":18.5,"y":3},{"x":18.9,"y":-2},{"x":13.5,"y":0},{"x":14.5,"y":-4},{"x":15.6,"y":-1},{"x":16.5,"y":0},{"x":17,"y":-12},{"x":14,"y":-8},{"x":15.3,"y":2},{"x":16.2,"y":-14},{"x":12.5,"y":3},{"x":13,"y":-6},{"x":13.3,"y":11},{"x":13.6,"y":-4},{"x":13.9,"y":6},{"x":14.2,"y":-8},{"x":14.4,"y":12},{"x":14.6,"y":1},{"x":14.9,"y":-3},{"x":15.1,"y":6},{"x":15.3,"y":-11},{"x":15.5,"y":9},{"x":15.7,"y":-5},{"x":16,"y":3},{"x":16.2,"y":10},{"x":16.4,"y":-6},{"x":16.6,"y":5},{"x":16.8,"y":-12},{"x":17,"y":8},{"x":17.2,"y":-4},{"x":17.5,"y":4},{"x":17.7,"y":-8},{"x":18,"y":7},{"x":18.2,"y":1},{"x":18.5,"y":-5},{"x":18.9,"y":4},{"x":19.3,"y":-7},{"x":19.7,"y":6},{"x":13.5,"y":-9},{"x":15,"y":15},{"x":16.1,"y":1},{"x":16.7,"y":-2},{"x":17.3,"y":9},{"x":18.3,"y":-1},{"x":14.7,"y":-7},{"x":13.2,"y":14},{"x":15.4,"y":-2},{"x":17.1,"y":-9},{"x":17.9,"y":2},{"x":14.1,"y":0}],
"t6":[{"x":4.5,"y":12.5},{"x":5.6,"y":8},{"x":6.9,"y":3},{"x":8.1,"y":1},{"x":9.5,"y":-1},{"x":11.5,"y":-1.5},{"x":13.2,"y":-1.5},{"x":14.9,"y":-1},{"x":16.6,"y":-2},{"x":18.3,"y":-1},{"x":19.4,"y":1},{"x":20.5,"y":4.5},{"x":21.7,"y":8}],
"g7":[{"x":2.6,"y":37},{"x":5.6,"y":30},{"x":5.6,"y":-8},{"x":5.9,"y":23},{"x":6.4,"y":-6},{"x":7.5,"y":-6},{"x":7.8,"y":14},{"x":9.4,"y":14.5},{"x":9.8,"y":-4.3},{"x":9.9,"y":-23},{"x":10.3,"y":26},{"x":10.4,"y":-30},{"x":12.3,"y":-26.7},{"x":12.4,"y":-35},{"x":13.8,"y":21},{"x":15.6,"y":-31},{"x":17,"y":-30},{"x":17.7,"y":-28},{"x":18.2,"y":13},{"x":19.2,"y":1.5},{"x":20.4,"y":-3.5},{"x":20.6,"y":0.6},{"x":7.3,"y":2},{"x":8,"y":-9},{"x":8.6,"y":6},{"x":9.1,"y":-4},{"x":9.6,"y":11},{"x":10,"y":-12},{"x":10.4,"y":7},{"x":10.9,"y":-16},{"x":11.3,"y":3},{"x":11.7,"y":12},{"x":12,"y":-9},{"x":12.4,"y":14},{"x":12.8,"y":-17},{"x":13.1,"y":6},{"x":13.5,"y":-6},{"x":13.8,"y":13},{"x":14.1,"y":-12},{"x":14.4,"y":1},{"x":14.8,"y":10},{"x":15.1,"y":-18},{"x":15.4,"y":7},{"x":15.7,"y":-3},{"x":16,"y":12},{"x":16.3,"y":-12},{"x":16.6,"y":4},{"x":16.9,"y":-7},{"x":17.2,"y":9},{"x":17.5,"y":-15},{"x":17.8,"y":3},{"x":18.1,"y":-6},{"x":18.5,"y":8},{"x":18.9,"y":-10},{"x":19.3,"y":4},{"x":19.7,"y":-5},{"x":20.1,"y":6},{"x":10.6,"y":-1},{"x":12.2,"y":-1},{"x":14,"y":-3},{"x":15.6,"y":0},{"x":17,"y":-1},{"x":13.4,"y":-23},{"x":16.1,"y":-19},{"x":8.1,"y":-4},{"x":8.5,"y":5},{"x":8.9,"y":-9},{"x":9.2,"y":1},{"x":9.7,"y":7},{"x":10,"y":-6},{"x":10.4,"y":2},{"x":10.8,"y":-12},{"x":11.1,"y":6},{"x":11.6,"y":-3},{"x":11.9,"y":10},{"x":12.2,"y":-11},{"x":12.6,"y":1},{"x":12.9,"y":-7},{"x":13.3,"y":9},{"x":13.6,"y":-4},{"x":13.8,"y":3},{"x":14.1,"y":-9},{"x":14.5,"y":12},{"x":14.8,"y":-2},{"x":15.1,"y":7},{"x":15.4,"y":-12},{"x":15.7,"y":4},{"x":16,"y":-7},{"x":16.3,"y":8},{"x":16.6,"y":-1},{"x":16.9,"y":11},{"x":17.2,"y":-9},{"x":17.5,"y":5},{"x":17.8,"y":-6},{"x":18.1,"y":2},{"x":18.5,"y":-11},{"x":18.8,"y":6},{"x":19.1,"y":-2},{"x":19.5,"y":9},{"x":19.9,"y":-5},{"x":11.4,"y":-8},{"x":13.1,"y":13},{"x":15.8,"y":-15},{"x":18.3,"y":10}],
"b7":[{"x":4.5,"y":22.6},{"x":5.3,"y":21},{"x":6.8,"y":22},{"x":6.8,"y":8},{"x":6.9,"y":3},{"x":6.8,"y":-21},{"x":7.2,"y":17.4},{"x":7.4,"y":19},{"x":7.4,"y":-16},{"x":7.8,"y":-15},{"x":8.6,"y":7},{"x":8.6,"y":-14.5},{"x":9.2,"y":24.6},{"x":9.7,"y":21.7},{"x":9.5,"y":-7},{"x":10.1,"y":-14.5},{"x":10.7,"y":16},{"x":10.8,"y":-14.5},{"x":11.1,"y":17},{"x":11.7,"y":17},{"x":12.2,"y":8},{"x":12.9,"y":-20},{"x":13.1,"y":-17},{"x":13.3,"y":17.4},{"x":13.9,"y":-21},{"x":14.2,"y":-22},{"x":14.6,"y":16},{"x":15,"y":-22},{"x":15.4,"y":17.4},{"x":16.3,"y":10},{"x":16.8,"y":-17},{"x":17.4,"y":-25.5},{"x":17.6,"y":-19},{"x":17.8,"y":6},{"x":18.6,"y":-11.6},{"x":19.2,"y":-8.7},{"x":19.7,"y":14.5},{"x":20,"y":8.7},{"x":20.3,"y":-2.3},{"x":20.6,"y":2.3},{"x":21.2,"y":-3},{"x":21.4,"y":4.3},{"x":21.6,"y":10},{"x":12.4,"y":-8},{"x":12.8,"y":2},{"x":13.1,"y":-12},{"x":13.4,"y":5},{"x":13.7,"y":-5},{"x":14,"y":9},{"x":14.3,"y":-14},{"x":14.6,"y":-2},{"x":14.9,"y":6},{"x":15.1,"y":-9},{"x":15.4,"y":3},{"x":15.7,"y":-15},{"x":16,"y":8},{"x":16.2,"y":-4},{"x":16.5,"y":2},{"x":16.8,"y":-11},{"x":17.1,"y":5},{"x":17.4,"y":-6},{"x":17.7,"y":-1},{"x":18,"y":4},{"x":18.4,"y":-7},{"x":18.8,"y":0},{"x":13.5,"y":-1},{"x":14.4,"y":3},{"x":15.5,"y":-5},{"x":16.4,"y":-8},{"x":17.2,"y":-2},{"x":14.1,"y":-7},{"x":15.2,"y":10},{"x":16.1,"y":1},{"x":11.5,"y":-5},{"x":10.4,"y":-3},{"x":12.5,"y":-3},{"x":13,"y":6},{"x":13.3,"y":-11},{"x":13.6,"y":4},{"x":13.9,"y":-6},{"x":14.2,"y":8},{"x":14.4,"y":-12},{"x":14.6,"y":-1},{"x":14.9,"y":3},{"x":15.1,"y":-6},{"x":15.3,"y":11},{"x":15.5,"y":-9},{"x":15.7,"y":5},{"x":16,"y":-3},{"x":16.2,"y":-10},{"x":16.4,"y":6},{"x":16.6,"y":-5},{"x":16.8,"y":12},{"x":17,"y":-8},{"x":17.2,"y":4},{"x":17.5,"y":-4},{"x":17.7,"y":8},{"x":18,"y":-7},{"x":18.2,"y":-1},{"x":18.5,"y":5},{"x":18.9,"y":-4},{"x":19.3,"y":7},{"x":19.7,"y":-6},{"x":13.5,"y":9},{"x":15,"y":-15},{"x":16.1,"y":-1},{"x":16.7,"y":2},{"x":17.3,"y":-9},{"x":18.3,"y":1},{"x":14.7,"y":7},{"x":13.2,"y":-14},{"x":15.4,"y":2},{"x":17.1,"y":9},{"x":17.9,"y":-2},{"x":14.1,"y":0}],
"t7":[{"x":4.5,"y":16},{"x":5.6,"y":11.6},{"x":7,"y":5},{"x":8.6,"y":1},{"x":10.6,"y":-1.5},{"x":12.6,"y":-1.5},{"x":14.6,"y":-1.5},{"x":16.6,"y":-2},{"x":18.6,"y":-1.5},{"x":19.6,"y":1.5},{"x":20.6,"y":5},{"x":21.6,"y":8}],
"g8":[{"x":5.2,"y":22.6},{"x":6.1,"y":-16},{"x":6.4,"y":12.5},{"x":6.9,"y":-12.5},{"x":8,"y":-14.5},{"x":8.9,"y":-19},{"x":9.5,"y":13},{"x":10,"y":-18},{"x":10.3,"y":-29.6},{"x":10.8,"y":20},{"x":10.8,"y":-25.5},{"x":12.3,"y":-27.5},{"x":12.5,"y":-35.6},{"x":16,"y":-32.5},{"x":17.3,"y":-32},{"x":17.8,"y":-29},{"x":18.5,"y":15},{"x":20.1,"y":10.7},{"x":20.4,"y":10},{"x":20.6,"y":-3.8},{"x":20,"y":1.5},{"x":7.5,"y":-6},{"x":8.2,"y":4},{"x":8.8,"y":-10},{"x":9.3,"y":7},{"x":9.7,"y":-14},{"x":10.2,"y":10},{"x":10.6,"y":-5},{"x":11,"y":13},{"x":11.4,"y":-17},{"x":11.8,"y":4},{"x":12.2,"y":12},{"x":12.6,"y":-10},{"x":12.9,"y":8},{"x":13.3,"y":-16},{"x":13.6,"y":14},{"x":14,"y":-4},{"x":14.3,"y":10},{"x":14.6,"y":-19},{"x":15,"y":5},{"x":15.3,"y":-8},{"x":15.6,"y":13},{"x":15.9,"y":-14},{"x":16.2,"y":6},{"x":16.5,"y":-4},{"x":16.8,"y":11},{"x":17.1,"y":-16},{"x":17.4,"y":6},{"x":17.7,"y":-7},{"x":18,"y":10},{"x":18.3,"y":-12},{"x":18.7,"y":3},{"x":19.1,"y":-8},{"x":19.5,"y":6},{"x":19.9,"y":-3},{"x":20.4,"y":3},{"x":10.8,"y":-1},{"x":12.4,"y":-2},{"x":14.4,"y":0},{"x":15.9,"y":0},{"x":17.5,"y":-2},{"x":13.1,"y":-24},{"x":16.4,"y":-26},{"x":8.5,"y":-4},{"x":8.9,"y":5},{"x":9.3,"y":-9},{"x":9.6,"y":1},{"x":10.1,"y":7},{"x":10.4,"y":-6},{"x":10.8,"y":2},{"x":11.2,"y":-12},{"x":11.5,"y":6},{"x":12,"y":-3},{"x":12.3,"y":10},{"x":12.6,"y":-11},{"x":13,"y":1},{"x":13.3,"y":-7},{"x":13.7,"y":9},{"x":14,"y":-4},{"x":14.2,"y":3},{"x":14.5,"y":-9},{"x":14.9,"y":12},{"x":15.2,"y":-2},{"x":15.5,"y":7},{"x":15.8,"y":-12},{"x":16.1,"y":4},{"x":16.4,"y":-7},{"x":16.7,"y":8},{"x":17,"y":-1},{"x":17.3,"y":11},{"x":17.6,"y":-9},{"x":17.9,"y":5},{"x":18.2,"y":-6},{"x":18.5,"y":2},{"x":18.9,"y":-11},{"x":19.2,"y":6},{"x":19.5,"y":-2},{"x":19.9,"y":9},{"x":20.3,"y":-5},{"x":11.8,"y":-8},{"x":13.5,"y":13},{"x":16.2,"y":-15},{"x":18.7,"y":10}],
"b8":[{"x":4,"y":35.6},{"x":4.8,"y":29.6},{"x":6.2,"y":-11},{"x":7,"y":-12},{"x":7.1,"y":15},{"x":7.3,"y":-0.6},{"x":7.4,"y":-5},{"x":7.7,"y":10},{"x":7.6,"y":8},{"x":8.1,"y":-9},{"x":8.3,"y":-21},{"x":8.6,"y":6.7},{"x":8.9,"y":1},{"x":9.1,"y":-16},{"x":9.6,"y":19},{"x":10,"y":19},{"x":9.7,"y":-9},{"x":10.4,"y":-9},{"x":10.5,"y":-18},{"x":10.8,"y":3},{"x":11.2,"y":11},{"x":11.5,"y":12.5},{"x":11.9,"y":-16},{"x":12.3,"y":14},{"x":12.5,"y":14.5},{"x":12.4,"y":-16},{"x":13,"y":-15},{"x":13.4,"y":-22},{"x":13.6,"y":19},{"x":13.9,"y":-17},{"x":14.2,"y":13.6},{"x":14.5,"y":-23},{"x":14.9,"y":-10},{"x":15.4,"y":-24},{"x":15.6,"y":15},{"x":16.3,"y":-10},{"x":16.9,"y":12.5},{"x":17.3,"y":-24.6},{"x":17.5,"y":-15},{"x":17.8,"y":-19.7},{"x":18.5,"y":-11.6},{"x":19.1,"y":-8.7},{"x":19.4,"y":16.5},{"x":19.5,"y":10},{"x":20,"y":-1},{"x":21.1,"y":-2.3},{"x":21.3,"y":5},{"x":21.6,"y":12.5},{"x":12.5,"y":2},{"x":12.8,"y":-10},{"x":13.2,"y":5},{"x":13.5,"y":-6},{"x":13.8,"y":10},{"x":14.1,"y":-13},{"x":14.4,"y":4},{"x":14.7,"y":-7},{"x":15,"y":8},{"x":15.2,"y":-3},{"x":15.5,"y":12},{"x":15.8,"y":-11},{"x":16.1,"y":3},{"x":16.3,"y":-6},{"x":16.6,"y":9},{"x":16.9,"y":-2},{"x":17.2,"y":5},{"x":17.5,"y":-8},{"x":17.8,"y":2},{"x":18.1,"y":7},{"x":18.4,"y":-4},{"x":18.8,"y":5},{"x":13.5,"y":-1},{"x":14.5,"y":-3},{"x":15.6,"y":1},{"x":16.5,"y":-9},{"x":17.1,"y":0},{"x":14.2,"y":7},{"x":15.3,"y":-8},{"x":16.2,"y":-13},{"x":11.9,"y":-3},{"x":12.4,"y":6},{"x":12.7,"y":-11},{"x":13,"y":4},{"x":13.3,"y":-6},{"x":13.6,"y":8},{"x":13.8,"y":-12},{"x":14,"y":-1},{"x":14.3,"y":3},{"x":14.5,"y":-6},{"x":14.7,"y":11},{"x":14.9,"y":-9},{"x":15.1,"y":5},{"x":15.4,"y":-3},{"x":15.6,"y":-10},{"x":15.8,"y":6},{"x":16,"y":-5},{"x":16.2,"y":12},{"x":16.4,"y":-8},{"x":16.6,"y":4},{"x":16.9,"y":-4},{"x":17.1,"y":8},{"x":17.4,"y":-7},{"x":17.6,"y":-1},{"x":17.9,"y":5},{"x":18.3,"y":-4},{"x":18.7,"y":7},{"x":19.1,"y":-6},{"x":12.9,"y":9},{"x":14.4,"y":-15},{"x":15.5,"y":-1},{"x":16.1,"y":2},{"x":16.7,"y":-9},{"x":17.7,"y":1},{"x":14.1,"y":7},{"x":12.6,"y":-14},{"x":14.8,"y":2},{"x":16.5,"y":9},{"x":17.3,"y":-2},{"x":13.5,"y":0}],
"t8":[{"x":4.1,"y":24},{"x":5.2,"y":14.5},{"x":6.7,"y":6},{"x":8.1,"y":1},{"x":9.5,"y":-1.5},{"x":11.5,"y":-3},{"x":13.2,"y":-3},{"x":14.9,"y":-2},{"x":16.6,"y":-1},{"x":18.3,"y":1},{"x":20,"y":4.5},{"x":21.5,"y":8.7}]
},
"concat":[
{"title":"k-Vizinhos mais próximos","width":492,"height":115,"layer":[
{"data":{"name":"g1"},"mark":{"type":"circle","size":20,"opacity":1},"encoding":{"x":{"field":"x","type":"quantitative","title":null,"scale":{"domain":[0,25],"nice":false},"axis":{"values":[0,5,10,15,20,25]}},"y":{"field":"y","type":"quantitative","title":null,"scale":{"domain":[-50,50],"nice":false},"axis":{"values":[-50,-25,0,25,50],"labelExpr":"''+datum.value"}},"fill":{"datum":"Treinamento","scale":{"domain":["Treinamento","Validação"],"range":["#b3b3b3","#000000"]},"legend":{"orient":"none","legendX":823,"legendY":749,"direction":"horizontal","title":null,"symbolType":"circle","symbolSize":16,"labelOffset":17,"columnPadding":17,"labelLimit":300,"labelFont":"Liberation Serif","labelFontSize":22}}}},
{"data":{"name":"b1"},"mark":{"type":"circle","size":20,"opacity":1},"encoding":{"x":{"field":"x","type":"quantitative","title":null},"y":{"field":"y","type":"quantitative","title":null},"fill":{"datum":"Validação"}}},
{"data":{"values":[{}]},"mark":{"type":"rule","color":"#222222","strokeWidth":1.2},"encoding":{"y":{"datum":0,"type":"quantitative","title":null}}},
{"data":{"name":"t1"},"mark":{"type":"line","interpolate":"monotone","strokeWidth":1.6},"encoding":{"x":{"field":"x","type":"quantitative","title":null},"y":{"field":"y","type":"quantitative","title":null},"stroke":{"datum":"Tendência","scale":{"domain":["Tendência"],"range":["#ff0000"]},"legend":{"orient":"none","legendX":412,"legendY":742,"direction":"horizontal","title":"Altura estimada (m)","titleOrient":"left","titleLimit":500,"labelLimit":300,"symbolType":"stroke","symbolSize":1156,"symbolStrokeWidth":1.8,"labelOffset":12,"titlePadding":19,"labelFont":"Liberation Serif","labelFontSize":22,"titleFont":"Liberation Serif","titleFontSize":29}}}}
]},
{"title":"Florestas aleatórias","width":490,"height":115,"layer":[
{"data":{"name":"g2"},"mark":{"type":"circle","size":20,"opacity":1},"encoding":{"x":{"field":"x","type":"quantitative","title":null,"scale":{"domain":[0,25],"nice":false},"axis":{"values":[0,5,10,15,20,25]}},"y":{"field":"y","type":"quantitative","title":null,"scale":{"domain":[-50,50],"nice":false},"axis":{"values":[-50,-25,0,25,50],"labelExpr":"''+datum.value"}},"fill":{"datum":"Treinamento"}}},
{"data":{"name":"b2"},"mark":{"type":"circle","size":20,"opacity":1},"encoding":{"x":{"field":"x","type":"quantitative","title":null},"y":{"field":"y","type":"quantitative","title":null},"fill":{"datum":"Validação"}}},
{"data":{"values":[{}]},"mark":{"type":"rule","color":"#222222","strokeWidth":1.2},"encoding":{"y":{"datum":0,"type":"quantitative","title":null}}},
{"data":{"name":"t2"},"mark":{"type":"line","interpolate":"monotone","strokeWidth":1.6},"encoding":{"x":{"field":"x","type":"quantitative","title":null},"y":{"field":"y","type":"quantitative","title":null},"stroke":{"datum":"Tendência"}}}
]},
{"title":"Máquinas de vetores de suporte","width":492,"height":115,"layer":[
{"data":{"name":"g3"},"mark":{"type":"circle","size":20,"opacity":1},"encoding":{"x":{"field":"x","type":"quantitative","title":null,"scale":{"domain":[0,25],"nice":false},"axis":{"values":[0,5,10,15,20,25]}},"y":{"field":"y","type":"quantitative","title":null,"scale":{"domain":[-50,50],"nice":false},"axis":{"values":[-50,-25,0,25,50],"labelExpr":"''+datum.value"}},"fill":{"datum":"Treinamento"}}},
{"data":{"name":"b3"},"mark":{"type":"circle","size":20,"opacity":1},"encoding":{"x":{"field":"x","type":"quantitative","title":null},"y":{"field":"y","type":"quantitative","title":null},"fill":{"datum":"Validação"}}},
{"data":{"values":[{}]},"mark":{"type":"rule","color":"#222222","strokeWidth":1.2},"encoding":{"y":{"datum":0,"type":"quantitative","title":null}}},
{"data":{"name":"t3"},"mark":{"type":"line","interpolate":"monotone","strokeWidth":1.6},"encoding":{"x":{"field":"x","type":"quantitative","title":null},"y":{"field":"y","type":"quantitative","title":null},"stroke":{"datum":"Tendência"}}}
]},
{"title":"Redes Neurais Artificiais","width":490,"height":115,"layer":[
{"data":{"name":"g4"},"mark":{"type":"circle","size":20,"opacity":1},"encoding":{"x":{"field":"x","type":"quantitative","title":null,"scale":{"domain":[0,25],"nice":false},"axis":{"values":[0,5,10,15,20,25]}},"y":{"field":"y","type":"quantitative","title":null,"scale":{"domain":[-50,50],"nice":false},"axis":{"values":[-50,-25,0,25,50],"labelExpr":"''+datum.value"}},"fill":{"datum":"Treinamento"}}},
{"data":{"name":"b4"},"mark":{"type":"circle","size":20,"opacity":1},"encoding":{"x":{"field":"x","type":"quantitative","title":null},"y":{"field":"y","type":"quantitative","title":null},"fill":{"datum":"Validação"}}},
{"data":{"values":[{}]},"mark":{"type":"rule","color":"#222222","strokeWidth":1.2},"encoding":{"y":{"datum":0,"type":"quantitative","title":null}}},
{"data":{"name":"t4"},"mark":{"type":"line","interpolate":"monotone","strokeWidth":1.6},"encoding":{"x":{"field":"x","type":"quantitative","title":null},"y":{"field":"y","type":"quantitative","title":null},"stroke":{"datum":"Tendência"}}}
]},
{"title":"Modelo de regressão 1","width":492,"height":115,"layer":[
{"data":{"name":"g5"},"mark":{"type":"circle","size":20,"opacity":1},"encoding":{"x":{"field":"x","type":"quantitative","title":null,"scale":{"domain":[0,25],"nice":false},"axis":{"values":[0,5,10,15,20,25]}},"y":{"field":"y","type":"quantitative","title":null,"scale":{"domain":[-50,50],"nice":false},"axis":{"values":[-50,-25,0,25,50],"labelExpr":"''+datum.value"}},"fill":{"datum":"Treinamento"}}},
{"data":{"name":"b5"},"mark":{"type":"circle","size":20,"opacity":1},"encoding":{"x":{"field":"x","type":"quantitative","title":null},"y":{"field":"y","type":"quantitative","title":null},"fill":{"datum":"Validação"}}},
{"data":{"values":[{}]},"mark":{"type":"rule","color":"#222222","strokeWidth":1.2},"encoding":{"y":{"datum":0,"type":"quantitative","title":null}}},
{"data":{"name":"t5"},"mark":{"type":"line","interpolate":"monotone","strokeWidth":1.6},"encoding":{"x":{"field":"x","type":"quantitative","title":null},"y":{"field":"y","type":"quantitative","title":null},"stroke":{"datum":"Tendência"}}}
]},
{"title":"Modelo de regressão 2","width":490,"height":115,"layer":[
{"data":{"name":"g6"},"mark":{"type":"circle","size":20,"opacity":1},"encoding":{"x":{"field":"x","type":"quantitative","title":null,"scale":{"domain":[0,25],"nice":false},"axis":{"values":[0,5,10,15,20,25]}},"y":{"field":"y","type":"quantitative","title":null,"scale":{"domain":[-50,50],"nice":false},"axis":{"values":[-50,-25,0,25,50],"labelExpr":"''+datum.value"}},"fill":{"datum":"Treinamento"}}},
{"data":{"name":"b6"},"mark":{"type":"circle","size":20,"opacity":1},"encoding":{"x":{"field":"x","type":"quantitative","title":null},"y":{"field":"y","type":"quantitative","title":null},"fill":{"datum":"Validação"}}},
{"data":{"values":[{}]},"mark":{"type":"rule","color":"#222222","strokeWidth":1.2},"encoding":{"y":{"datum":0,"type":"quantitative","title":null}}},
{"data":{"name":"t6"},"mark":{"type":"line","interpolate":"monotone","strokeWidth":1.6},"encoding":{"x":{"field":"x","type":"quantitative","title":null},"y":{"field":"y","type":"quantitative","title":null},"stroke":{"datum":"Tendência"}}}
]},
{"title":"Modelo de regressão 3","width":492,"height":115,"layer":[
{"data":{"name":"g7"},"mark":{"type":"circle","size":20,"opacity":1},"encoding":{"x":{"field":"x","type":"quantitative","title":null,"scale":{"domain":[0,25],"nice":false},"axis":{"values":[0,5,10,15,20,25]}},"y":{"field":"y","type":"quantitative","title":null,"scale":{"domain":[-50,50],"nice":false},"axis":{"values":[-50,-25,0,25,50],"labelExpr":"''+datum.value"}},"fill":{"datum":"Treinamento"}}},
{"data":{"name":"b7"},"mark":{"type":"circle","size":20,"opacity":1},"encoding":{"x":{"field":"x","type":"quantitative","title":null},"y":{"field":"y","type":"quantitative","title":null},"fill":{"datum":"Validação"}}},
{"data":{"values":[{}]},"mark":{"type":"rule","color":"#222222","strokeWidth":1.2},"encoding":{"y":{"datum":0,"type":"quantitative","title":null}}},
{"data":{"name":"t7"},"mark":{"type":"line","interpolate":"monotone","strokeWidth":1.6},"encoding":{"x":{"field":"x","type":"quantitative","title":null},"y":{"field":"y","type":"quantitative","title":null},"stroke":{"datum":"Tendência"}}}
]},
{"title":"Modelo de regressão 4","width":490,"height":115,"layer":[
{"data":{"name":"g8"},"mark":{"type":"circle","size":20,"opacity":1},"encoding":{"x":{"field":"x","type":"quantitative","title":null,"scale":{"domain":[0,25],"nice":false},"axis":{"values":[0,5,10,15,20,25]}},"y":{"field":"y","type":"quantitative","title":null,"scale":{"domain":[-50,50],"nice":false},"axis":{"values":[-50,-25,0,25,50],"labelExpr":"''+datum.value"}},"fill":{"datum":"Treinamento"}}},
{"data":{"name":"b8"},"mark":{"type":"circle","size":20,"opacity":1},"encoding":{"x":{"field":"x","type":"quantitative","title":null},"y":{"field":"y","type":"quantitative","title":null},"fill":{"datum":"Validação"}}},
{"data":{"values":[{}]},"mark":{"type":"rule","color":"#222222","strokeWidth":1.2},"encoding":{"y":{"datum":0,"type":"quantitative","title":null}}},
{"data":{"name":"t8"},"mark":{"type":"line","interpolate":"monotone","strokeWidth":1.6},"encoding":{"x":{"field":"x","type":"quantitative","title":null},"y":{"field":"y","type":"quantitative","title":null},"stroke":{"datum":"Tendência"}}}
]}
],
"config":{
"font":"Liberation Serif, DejaVu Serif, serif",
"view":{"stroke":null},
"title":{"font":"Liberation Serif, DejaVu Serif, serif","fontSize":23,"fontWeight":"normal","color":"black","offset":-1},
"axis":{"labelFont":"Liberation Serif, DejaVu Serif, serif","labelFontSize":23,"labelColor":"black"},
"axisX":{"domain":false,"ticks":false,"grid":false,"labelPadding":12,"labelFlush":false},
"axisY":{"domainColor":"#333333","tickColor":"#333333","tickSize":5,"labelPadding":3,"grid":true,"gridColor":"#f7eded","domainWidth":1.2},
"legend":{"titleFont":"Liberation Serif, DejaVu Serif, serif","titleFontSize":29,"titleFontWeight":"normal","titleColor":"black","labelFont":"Liberation Serif, DejaVu Serif, serif","labelFontSize":22,"labelColor":"black"}
}
}
